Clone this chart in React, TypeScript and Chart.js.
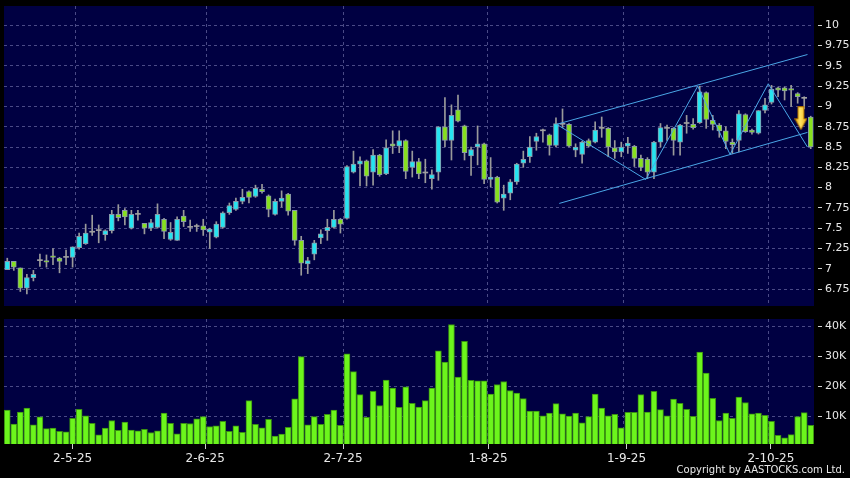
import { useEffect, useRef } from "react";
import { Chart, registerables } from "chart.js";

Chart.register(...registerables);

// ---- Data ----
const opens = [
  6.99, 7.09, 7.01, 6.76, 6.89, 7.10, 7.10, 7.16, 7.13, 7.14,
  7.14, 7.26, 7.31, 7.45, 7.47, 7.42, 7.47, 7.67, 7.72, 7.50,
  7.67, 7.56, 7.50, 7.51, 7.61, 7.36, 7.35, 7.65, 7.51, 7.52,
  7.53, 7.45, 7.39, 7.51, 7.69, 7.73, 7.83, 7.95, 7.89, 7.98,
  7.90, 7.67, 7.83, 7.92, 7.72, 7.35, 7.06, 7.18, 7.38, 7.47,
  7.51, 7.61, 7.62, 8.19, 8.29, 8.33, 8.19, 8.40, 8.17, 8.54,
  8.51, 8.58, 8.25, 8.32, 8.18, 8.11, 8.19, 8.75, 8.58, 8.96,
  8.76, 8.39, 8.50, 8.54, 8.10, 8.13, 7.87, 7.93, 8.07, 8.30,
  8.38, 8.57, 8.70, 8.65, 8.52, 8.78, 8.78, 8.46, 8.41, 8.58,
  8.56, 8.73, 8.73, 8.49, 8.44, 8.51, 8.51, 8.36, 8.35, 8.19,
  8.56, 8.73, 8.73, 8.56, 8.79, 8.78, 8.80, 9.17, 8.83, 8.77,
  8.70, 8.56, 8.58, 8.90, 8.71, 8.67, 8.95, 9.05, 9.23, 9.23,
  9.22, 9.16, 9.10, 8.87,
];
const highs = [
  7.13, 7.09, 7.01, 6.93, 6.98, 7.18, 7.17, 7.25, 7.14, 7.23,
  7.27, 7.44, 7.55, 7.66, 7.54, 7.48, 7.72, 7.79, 7.74, 7.72,
  7.72, 7.56, 7.61, 7.80, 7.62, 7.57, 7.64, 7.72, 7.60, 7.55,
  7.61, 7.50, 7.58, 7.70, 7.81, 7.87, 7.98, 7.96, 8.03, 8.04,
  7.91, 7.86, 7.96, 7.93, 7.72, 7.40, 7.14, 7.35, 7.48, 7.61,
  7.72, 7.62, 8.27, 8.45, 8.38, 8.34, 8.47, 8.41, 8.59, 8.70,
  8.70, 8.59, 8.45, 8.36, 8.35, 8.22, 8.75, 9.11, 9.02, 9.14,
  8.77, 8.50, 8.76, 8.55, 8.37, 8.14, 8.03, 8.10, 8.30, 8.45,
  8.63, 8.67, 8.72, 8.66, 8.86, 8.97, 8.79, 8.54, 8.57, 8.60,
  8.81, 8.87, 8.74, 8.58, 8.56, 8.62, 8.52, 8.40, 8.37, 8.57,
  8.79, 8.77, 8.74, 8.78, 8.89, 8.85, 9.25, 9.18, 8.89, 8.79,
  8.75, 8.60, 8.95, 8.91, 8.72, 8.95, 9.10, 9.26, 9.24, 9.24,
  9.26, 9.17, 9.12, 8.88,
];
const lows = [
  6.99, 6.98, 6.72, 6.69, 6.85, 7.03, 7.02, 7.05, 6.95, 7.05,
  7.02, 7.24, 7.30, 7.41, 7.32, 7.35, 7.44, 7.59, 7.54, 7.49,
  7.60, 7.43, 7.47, 7.50, 7.37, 7.35, 7.35, 7.52, 7.46, 7.46,
  7.41, 7.25, 7.38, 7.50, 7.67, 7.72, 7.80, 7.81, 7.88, 7.93,
  7.64, 7.66, 7.76, 7.66, 7.29, 6.92, 6.94, 7.11, 7.31, 7.35,
  7.50, 7.44, 7.61, 8.18, 8.02, 8.02, 8.03, 8.14, 8.16, 8.42,
  8.43, 8.11, 8.13, 8.11, 8.06, 7.98, 8.09, 8.50, 8.34, 8.81,
  8.34, 8.15, 8.28, 8.05, 8.01, 7.81, 7.72, 7.85, 8.04, 8.25,
  8.31, 8.46, 8.56, 8.40, 8.50, 8.74, 8.50, 8.38, 8.30, 8.50,
  8.55, 8.62, 8.38, 8.36, 8.38, 8.42, 8.26, 8.21, 8.11, 8.11,
  8.50, 8.58, 8.40, 8.40, 8.67, 8.72, 8.79, 8.73, 8.71, 8.62,
  8.48, 8.42, 8.44, 8.68, 8.66, 8.66, 8.92, 9.03, 9.12, 9.08,
  9.00, 9.04, 8.97, 8.48,
];
const closes = [
  7.09, 7.02, 6.76, 6.89, 6.93, 7.10, 7.08, 7.14, 7.09, 7.14,
  7.27, 7.40, 7.44, 7.45, 7.47, 7.47, 7.67, 7.63, 7.64, 7.67,
  7.67, 7.50, 7.57, 7.67, 7.46, 7.45, 7.61, 7.58, 7.51, 7.52,
  7.48, 7.49, 7.55, 7.69, 7.78, 7.83, 7.88, 7.88, 7.99, 7.95,
  7.73, 7.83, 7.87, 7.71, 7.35, 7.07, 7.10, 7.32, 7.43, 7.51,
  7.61, 7.55, 8.26, 8.29, 8.33, 8.14, 8.40, 8.16, 8.49, 8.51,
  8.58, 8.20, 8.32, 8.17, 8.18, 8.16, 8.75, 8.58, 8.89, 8.82,
  8.43, 8.47, 8.54, 8.10, 8.13, 7.82, 7.92, 8.07, 8.29, 8.35,
  8.50, 8.63, 8.70, 8.52, 8.79, 8.78, 8.51, 8.50, 8.56, 8.51,
  8.71, 8.73, 8.50, 8.44, 8.50, 8.55, 8.36, 8.25, 8.19, 8.56,
  8.74, 8.73, 8.58, 8.77, 8.79, 8.74, 9.18, 8.84, 8.78, 8.70,
  8.57, 8.53, 8.91, 8.69, 8.68, 8.95, 9.02, 9.21, 9.20, 9.19,
  9.20, 9.12, 9.10, 8.50,
];
const volumesK = [
  12.1, 7.4, 11.4, 12.7, 7.2, 9.8, 5.9, 6.1, 5.0, 4.8,
  9.3, 12.3, 10.2, 7.7, 3.8, 6.1, 8.6, 5.3, 8.1, 5.4,
  5.2, 5.7, 4.6, 5.2, 11.1, 7.7, 4.2, 7.7, 7.6, 9.2,
  9.9, 6.6, 6.8, 8.3, 5.0, 6.8, 4.7, 15.2, 7.3, 6.2,
  9.0, 3.4, 4.1, 6.3, 15.8, 29.9, 7.2, 9.9, 7.3, 10.7,
  12.1, 7.0, 30.8, 24.9, 17.2, 9.7, 18.3, 13.6, 22.1, 19.4,
  13.0, 19.8, 14.3, 13.1, 15.2, 19.4, 31.8, 28.1, 40.6, 23.1,
  35.0, 22.0, 21.8, 21.8, 17.4, 20.6, 21.6, 18.6, 17.7, 15.9,
  11.7, 11.7, 10.2, 11.1, 14.2, 10.8, 10.1, 11.1, 7.8, 9.9,
  17.4, 12.7, 10.2, 10.7, 6.2, 11.3, 11.3, 17.2, 11.4, 18.3,
  12.2, 10.2, 15.7, 14.3, 12.3, 10.0, 31.4, 24.4, 16.0, 8.6,
  11.1, 9.3, 16.4, 14.6, 10.8, 11.1, 10.3, 8.3, 3.7, 2.8,
  3.9, 9.9, 11.2, 7.0,
];
const dateLabels = ["2-5-25", "2-6-25", "2-7-25", "1-8-25", "1-9-25", "2-10-25"];
const dateLabelIndex = [10.0, 30.3, 51.4, 73.6, 94.8, 116.9];
const dateGridIndex = [10.5, 30.5, 51.4, 73.5, 94.4, 116.5];
const priceTicks = [6.75, 7, 7.25, 7.5, 7.75, 8, 8.25, 8.5, 8.75, 9, 9.25, 9.5, 9.75, 10];
const volumeTicks = [10000, 20000, 30000, 40000];
const channelUpper = [{ x: 84.1, y: 8.78 }, { x: 122.5, y: 9.64 }];
const channelLower = [{ x: 84.5, y: 7.805 }, { x: 122.5, y: 8.68 }];
const zigzag = [
  { x: 84.1, y: 8.78 }, { x: 97.75, y: 8.10 }, { x: 105.7, y: 9.25 },
  { x: 110.65, y: 8.41 }, { x: 116.5, y: 9.28 }, { x: 122.5, y: 8.50 },
];
const signalArrow = [{ x: 121.5, y: 8.855 }];

// ---- Styles ----
const NAVY = "#000042";
const GRID = "#4a4a86";
const UP = "#26e4f0";
const DOWN = "#86e01e";
const FLAT = "#a0a0a0";
const WICK = "#9a9a9a";
const BODY_EDGE = "#8a98a8";
const CHANNEL = "#4aa6e6";
const VOL_FILL = "#6cf51c";
const VOL_EDGE = "#3a9012";
const TEXT = "#e8e8e8";
const FONT = "'DejaVu Sans', Verdana, sans-serif";
const X_MIN = -0.5;
const X_MAX = opens.length - 0.5;

const background = {
  id: "panelBackground",
  beforeDraw(chart: any) {
    const { ctx, chartArea: a, width, height } = chart;
    ctx.save();
    ctx.fillStyle = "#000";
    ctx.fillRect(0, 0, width, height);
    ctx.fillStyle = NAVY;
    ctx.fillRect(a.left, a.top, a.right - a.left, a.bottom - a.top);
    ctx.restore();
  },
};

function makeArrow(): HTMLCanvasElement {
  const c = document.createElement("canvas");
  c.width = 13;
  c.height = 24;
  const g = c.getContext("2d")!;
  const grad = g.createLinearGradient(0, 0, 13, 0);
  grad.addColorStop(0, "#e89a00");
  grad.addColorStop(0.45, "#ffe566");
  grad.addColorStop(1, "#e8a000");
  g.fillStyle = grad;
  g.strokeStyle = "#a86a00";
  g.lineWidth = 1;
  g.beginPath();
  g.moveTo(3.5, 0.5);
  g.lineTo(9.5, 0.5);
  g.lineTo(9.5, 12.5);
  g.lineTo(12.5, 12.5);
  g.lineTo(6.5, 23.5);
  g.lineTo(0.5, 12.5);
  g.lineTo(3.5, 12.5);
  g.closePath();
  g.fill();
  g.stroke();
  return c;
}

function xGridScale() {
  return {
    type: "linear",
    min: X_MIN,
    max: X_MAX,
    offset: false,
    grid: { color: GRID, lineWidth: 1, drawTicks: false, offset: false },
    border: { display: false, dash: [3, 3] },
    ticks: { display: false },
    afterBuildTicks: (s: any) => {
      s.ticks = dateGridIndex.map((v) => ({ value: v }));
    },
    afterFit: (s: any) => {
      s.height = 0;
      s.paddingLeft = 0;
      s.paddingRight = 0;
    },
  };
}

export default function App() {
  const priceRef = useRef<HTMLCanvasElement>(null);
  const volRef = useRef<HTMLCanvasElement>(null);

  useEffect(() => {
    const n = opens.length;
    const idx = Array.from({ length: n }, (_, i) => i);
    const bodyData = idx.map((i) => ({ x: i, y: [opens[i], closes[i]] }));
    const wickData = idx.map((i) => ({ x: i, y: [lows[i], highs[i]] }));
    const bodyColors = idx.map((i) =>
      closes[i] > opens[i] ? UP : closes[i] < opens[i] ? DOWN : FLAT
    );
    const bodyBorderW = idx.map((i) => (closes[i] === opens[i] ? 0 : 1));
    const arrow = makeArrow();

    const price = new Chart(priceRef.current!, {
      type: "bar",
      data: {
        datasets: [
          {
            type: "line",
            label: "Signal",
            data: signalArrow,
            showLine: false,
            pointStyle: arrow as any,
            pointRadius: 10,
            order: -1,
          } as any,
          {
            type: "line",
            label: "Upper channel",
            data: channelUpper,
            borderColor: CHANNEL,
            borderWidth: 1,
            pointRadius: 0,
            order: 0,
          },
          {
            type: "line",
            label: "Lower channel",
            data: channelLower,
            borderColor: CHANNEL,
            borderWidth: 1,
            pointRadius: 0,
            order: 0,
          },
          {
            type: "line",
            label: "Zigzag",
            data: zigzag,
            borderColor: CHANNEL,
            borderWidth: 1,
            pointRadius: 0,
            order: 0,
          },
          {
            type: "bar",
            label: "Body",
            data: bodyData as any,
            backgroundColor: bodyColors,
            borderColor: BODY_EDGE,
            borderWidth: bodyBorderW,
            borderSkipped: false,
            barThickness: 5,
            minBarLength: 1,
            grouped: false,
            order: 1,
          } as any,
          {
            type: "bar",
            label: "Wick",
            data: wickData as any,
            backgroundColor: WICK,
            barThickness: 1,
            grouped: false,
            order: 2,
          } as any,
        ],
      },
      options: {
        animation: false,
        responsive: false,
        maintainAspectRatio: false,
        events: [],
        layout: { autoPadding: false, padding: { top: 6, bottom: 6, left: 4, right: 0 } },
        plugins: { legend: { display: false }, tooltip: { enabled: false } },
        scales: {
          x: xGridScale() as any,
          y: {
            type: "linear",
            position: "right",
            min: 6.541,
            max: 10.238,
            grid: {
              color: GRID,
              tickColor: "#cfcfcf",
              tickLength: 8,
              tickBorderDash: [0, 4, 4],
            },
            border: { display: false, dash: [3, 3] },
            ticks: {
              color: TEXT,
              font: { family: FONT, size: 11 },
              padding: 3,
              callback: (v: any) => String(v),
            },
            afterBuildTicks: (s: any) => {
              s.ticks = priceTicks.map((v) => ({ value: v }));
            },
            afterFit: (s: any) => {
              s.width = 36;
              s.paddingTop = 0;
              s.paddingBottom = 0;
            },
          } as any,
        },
      },
      plugins: [background],
    });

    const volume = new Chart(volRef.current!, {
      type: "bar",
      data: {
        datasets: [
          {
            label: "Volume",
            data: idx.map((i) => ({ x: i, y: volumesK[i] * 1000 })) as any,
            backgroundColor: VOL_FILL,
            borderColor: VOL_EDGE,
            borderWidth: 1,
            borderSkipped: false,
            barThickness: 6,
            grouped: false,
          } as any,
        ],
      },
      options: {
        animation: false,
        responsive: false,
        maintainAspectRatio: false,
        events: [],
        layout: { autoPadding: false, padding: { top: 7, bottom: 0, left: 4, right: 0 } },
        plugins: { legend: { display: false }, tooltip: { enabled: false } },
        scales: {
          x: xGridScale() as any,
          xl: {
            type: "linear",
            position: "bottom",
            min: X_MIN,
            max: X_MAX,
            offset: false,
            grid: {
              drawOnChartArea: false,
              tickLength: 5,
              tickColor: "#cfcfcf",
              offset: false,
            },
            border: { display: false },
            ticks: {
              color: TEXT,
              font: { family: FONT, size: 12 },
              padding: 3,
              maxRotation: 0,
              autoSkip: false,
              callback: (_v: any, i: number) => dateLabels[i],
            },
            afterBuildTicks: (s: any) => {
              s.ticks = dateLabelIndex.map((v) => ({ value: v }));
            },
            afterFit: (s: any) => {
              s.height = 34;
              s.paddingLeft = 0;
              s.paddingRight = 0;
            },
          } as any,
          y: {
            type: "linear",
            position: "right",
            min: 770,
            max: 42430,
            grid: {
              color: GRID,
              tickColor: "#cfcfcf",
              tickLength: 8,
              tickBorderDash: [0, 4, 4],
            },
            border: { display: false, dash: [3, 3] },
            ticks: {
              color: TEXT,
              font: { family: FONT, size: 11 },
              padding: 3,
              callback: (v: any) => Number(v) / 1000 + "K",
            },
            afterBuildTicks: (s: any) => {
              s.ticks = volumeTicks.map((v) => ({ value: v }));
            },
            afterFit: (s: any) => {
              s.width = 36;
              s.paddingTop = 0;
              s.paddingBottom = 0;
            },
          } as any,
        },
      },
      plugins: [background],
    });

    return () => {
      price.destroy();
      volume.destroy();
    };
  }, []);

  return (
    <div
      style={{
        position: "fixed",
        left: 0,
        top: 0,
        width: 850,
        height: 478,
        background: "#000",
        overflow: "hidden",
      }}
    >
      <canvas
        ref={priceRef}
        width={850}
        height={312}
        style={{ position: "absolute", left: 0, top: 0, width: 850, height: 312 }}
      />
      <canvas
        ref={volRef}
        width={850}
        height={166}
        style={{ position: "absolute", left: 0, top: 312, width: 850, height: 166 }}
      />
      <div
        style={{
          position: "absolute",
          right: 5,
          top: 464,
          fontFamily: FONT,
          fontSize: 10,
          lineHeight: "12px",
          color: TEXT,
          whiteSpace: "nowrap",
        }}
      >
        Copyright by AASTOCKS.com Ltd.
      </div>
    </div>
  );
}
